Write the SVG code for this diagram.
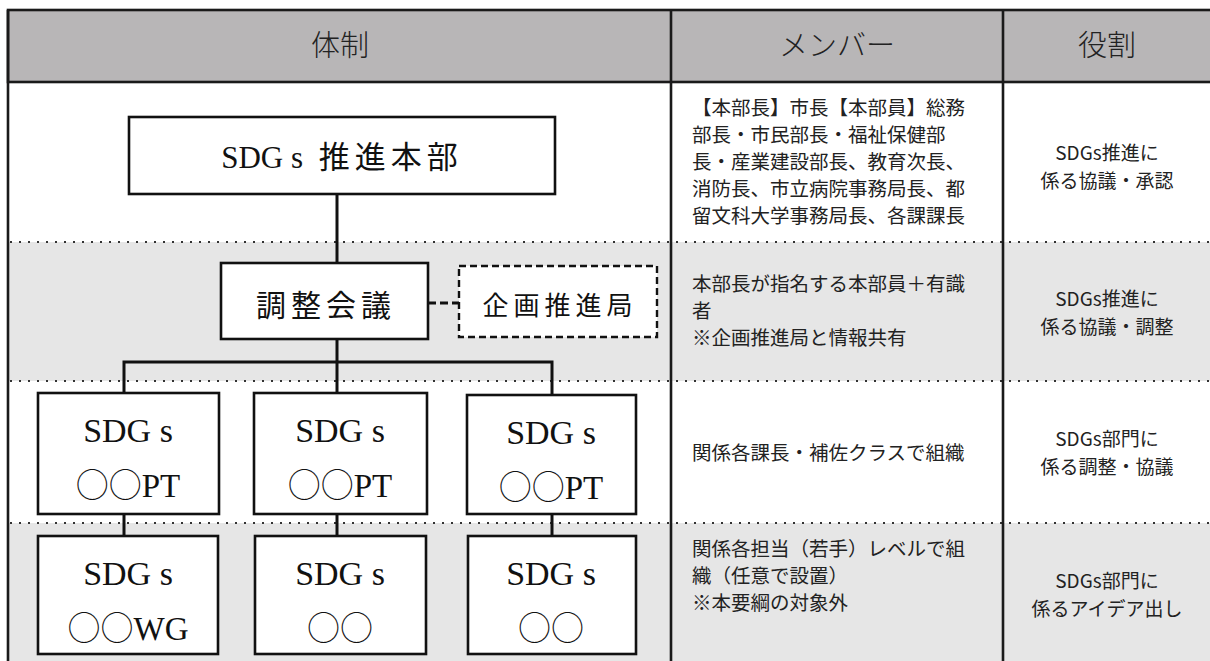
<svg xmlns="http://www.w3.org/2000/svg" width="1210" height="661" viewBox="0 0 1210 661">
<style>
.hdr{font-family:"Noto Sans CJK JP","Noto Sans",sans-serif;font-size:29px;font-weight:300;fill:#222;text-anchor:middle}
.box{fill:#fff;stroke:#111;stroke-width:2.6}
.dbox{fill:#fff;stroke:#111;stroke-width:2.4;stroke-dasharray:7 4}
.ser{font-family:"Liberation Serif","Noto Sans CJK JP",serif;fill:#111;text-anchor:middle}
.cir{font-family:"Noto Sans CJK JP",sans-serif;font-weight:300}
.goth{font-family:"Noto Sans CJK JP","Noto Sans",sans-serif;fill:#111;text-anchor:middle}
.mem{font-family:"Noto Sans CJK JP","Noto Sans",sans-serif;font-size:19.5px;fill:#222}
.role{font-family:"Noto Sans CJK JP","Noto Sans",sans-serif;font-size:19px;fill:#222;text-anchor:middle}
.dot{stroke:#333;stroke-width:2;stroke-dasharray:2 7;fill:none}
.rule{stroke:#1a1a1a;stroke-width:2.6;fill:none}
.conn{stroke:#111;stroke-width:3;fill:none}
</style>
<rect x="0" y="0" width="1210" height="661" fill="#fff"/>
<g id="table">
<rect x="8" y="242" width="1202" height="139" fill="#e6e6e6"/>
<rect x="8" y="523" width="1202" height="138" fill="#e6e6e6"/>
<rect x="8" y="10" width="1204" height="72" fill="#b8b6b7" stroke="#1a1a1a" stroke-width="2.6"/>
<line class="dot" x1="10" y1="242" x2="1210" y2="242"/>
<line class="dot" x1="10" y1="381" x2="1210" y2="381"/>
<line class="dot" x1="10" y1="523" x2="1210" y2="523"/>
<line class="rule" x1="8" y1="10" x2="8" y2="661"/>
<line class="rule" x1="671" y1="10" x2="671" y2="661"/>
<line class="rule" x1="1003" y1="10" x2="1003" y2="661"/>
<text class="hdr" x="340" y="56">体制</text>
<text class="hdr" x="837" y="56">メンバー</text>
<text class="hdr" x="1107" y="56">役割</text>
</g>
<g id="members">
<text class="mem" x="692" y="115">【本部長】市長【本部員】総務</text>
<text class="mem" x="692" y="142">部長・市民部長・福祉保健部</text>
<text class="mem" x="692" y="169">長・産業建設部長、教育次長、</text>
<text class="mem" x="692" y="196">消防長、市立病院事務局長、都</text>
<text class="mem" x="692" y="223">留文科大学事務局長、各課課長</text>
<text class="mem" x="692" y="291">本部長が指名する本部員＋有識</text>
<text class="mem" x="692" y="318">者</text>
<text class="mem" x="692" y="345">※企画推進局と情報共有</text>
<text class="mem" x="692" y="460">関係各課長・補佐クラスで組織</text>
<text class="mem" x="692" y="556">関係各担当（若手）レベルで組</text>
<text class="mem" x="692" y="583">織（任意で設置）</text>
<text class="mem" x="692" y="610">※本要綱の対象外</text>
</g>
<g id="roles">
<text class="role" x="1107" y="160">SDGs推進に</text>
<text class="role" x="1107" y="188">係る協議・承認</text>
<text class="role" x="1107" y="306">SDGs推進に</text>
<text class="role" x="1107" y="334">係る協議・調整</text>
<text class="role" x="1107" y="446">SDGs部門に</text>
<text class="role" x="1107" y="474">係る調整・協議</text>
<text class="role" x="1107" y="588">SDGs部門に</text>
<text class="role" x="1107" y="616">係るアイデア出し</text>
</g>
<g id="connectors">
<line class="conn" x1="337" y1="194" x2="337" y2="263"/>
<line class="conn" x1="337" y1="339" x2="337" y2="393"/>
<polyline class="conn" points="124,393 124,362 552,362 552,395"/>
<line class="conn" x1="124" y1="514" x2="124" y2="536"/>
<line class="conn" x1="337" y1="514" x2="337" y2="536"/>
<line class="conn" x1="552" y1="514" x2="552" y2="536"/>
<line x1="428" y1="303" x2="459" y2="303" stroke="#111" stroke-width="3.2" stroke-dasharray="8 4"/>
</g>
<g id="honbu">
<rect class="box" x="129" y="117" width="426" height="77"/>
<text class="ser" x="342" y="168" font-size="31">SDG s <tspan dx="8" letter-spacing="5">推進本部</tspan></text>
</g>
<g id="chosei">
<rect class="box" x="221" y="263" width="207" height="76"/>
<text class="goth" x="326" y="316" font-size="30" letter-spacing="5">調整会議</text>
</g>
<g id="kikaku">
<rect class="dbox" x="459" y="266" width="198" height="71"/>
<text class="goth" x="560" y="315" font-size="26" letter-spacing="5">企画推進局</text>
</g>
<g id="pt1">
<rect class="box" x="38" y="393" width="181" height="121"/>
<text class="ser" x="128" y="442" font-size="34">SDG s</text>
<text class="ser" x="128" y="497" font-size="33"><tspan class="cir">○○</tspan>PT</text>
</g>
<g id="pt2">
<rect class="box" x="254" y="393" width="173" height="121"/>
<text class="ser" x="340" y="442" font-size="34">SDG s</text>
<text class="ser" x="340" y="497" font-size="33"><tspan class="cir">○○</tspan>PT</text>
</g>
<g id="pt3">
<rect class="box" x="467" y="395" width="169" height="119"/>
<text class="ser" x="551" y="444" font-size="34">SDG s</text>
<text class="ser" x="551" y="499" font-size="33"><tspan class="cir">○○</tspan>PT</text>
</g>
<g id="wg1">
<rect class="box" x="38" y="536" width="180" height="118"/>
<text class="ser" x="128" y="585" font-size="34">SDG s</text>
<text class="ser" x="128" y="640" font-size="33"><tspan class="cir">○○</tspan>WG</text>
</g>
<g id="wg2">
<rect class="box" x="255" y="536" width="171" height="118"/>
<text class="ser" x="340" y="585" font-size="34">SDG s</text>
<text class="ser" x="340" y="640" font-size="33"><tspan class="cir">○○</tspan></text>
</g>
<g id="wg3">
<rect class="box" x="468" y="536" width="168" height="118"/>
<text class="ser" x="551" y="585" font-size="34">SDG s</text>
<text class="ser" x="551" y="640" font-size="33"><tspan class="cir">○○</tspan></text>
</g>
</svg>
